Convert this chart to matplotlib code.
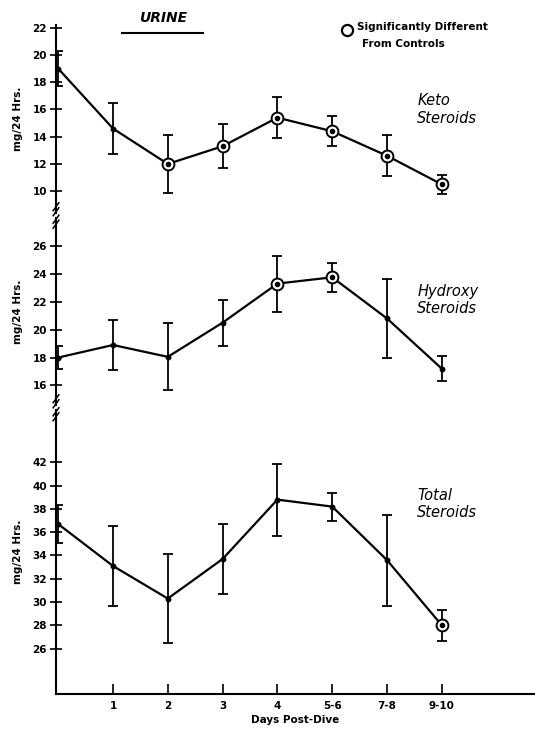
import matplotlib
matplotlib.use("Agg")
import matplotlib.pyplot as plt

# x positions: control, then days post-dive
days = ["Control", "1", "2", "3", "4", "5-6", "7-8", "9-10"]
xpos = list(range(len(days)))

keto_mean = [19.0, 14.6, 12.0, 13.3, 15.4, 14.4, 12.6, 10.5]
keto_err = [1.3, 1.9, 2.1, 1.6, 1.5, 1.1, 1.5, 0.7]
keto_sig = [False, False, True, True, True, True, True, True]

hydroxy_mean = [18.0, 18.9, 18.05, 20.5, 23.3, 23.75, 20.8, 17.2]
hydroxy_err = [0.85, 1.8, 2.4, 1.65, 2.0, 1.05, 2.85, 0.9]
hydroxy_sig = [False, False, False, False, True, True, False, False]

total_mean = [36.7, 33.1, 30.3, 33.7, 38.8, 38.2, 33.6, 28.0]
total_err = [1.6, 3.4, 3.8, 3.0, 3.1, 1.2, 3.9, 1.35]
total_sig = [False, False, False, False, False, False, False, True]

W, H = 535, 731
fig = plt.figure(figsize=(W / 100, H / 100), dpi=100)


def box(top, bottom, left=56, right=535):
    return [left / W, 1 - bottom / H, (right - left) / W, (bottom - top) / H]


panels = [
    (box(25, 213), keto_mean, keto_err, keto_sig, (8.4, 22.2), range(10, 23, 2), "Keto\nSteroids", 17.2),
    (box(218, 405), hydroxy_mean, hydroxy_err, hydroxy_sig, (14.6, 28.0), range(16, 27, 2), "Hydroxy\nSteroids", 23.3),
    (box(410, 694), total_mean, total_err, total_sig, (22.1, 46.5), range(26, 43, 2), "Total\nSteroids", 39.8),
]

tfont = dict(fontsize=7.5, fontweight="bold")
axes = []
for i, (rect, mean, err, sig, ylim, yt, name, ylab) in enumerate(panels):
    ax = fig.add_axes(rect)
    axes.append(ax)
    ax.errorbar(xpos, mean, yerr=err, color="black", lw=1.6, capsize=3.8,
                elinewidth=1.3, capthick=1.3, marker="o", ms=3.2, zorder=3)
    sx = [x for x, s in zip(xpos, sig) if s]
    sy = [m for m, s in zip(mean, sig) if s]
    ax.plot(sx, sy, "o", ms=8.5, mfc="white", mec="black", mew=1.4, zorder=4)
    ax.plot(sx, sy, "o", ms=3, color="black", zorder=5)
    ax.set_xlim(-0.04, 8.7)
    ax.set_ylim(*ylim)
    ax.set_yticks(list(yt))
    ax.set_yticklabels([str(v) for v in yt], **tfont)
    ax.tick_params(axis="y", direction="inout", length=9, width=1.2, pad=2)
    for s in ["top", "right"]:
        ax.spines[s].set_visible(False)
    ax.spines["left"].set_linewidth(1.5)
    ax.set_ylabel("mg/24 Hrs.", fontsize=7.5, fontweight="bold")
    ax.text(6.55, ylab, name, fontsize=10.5, style="italic", va="top", ha="left")
    if i < 2:
        ax.spines["bottom"].set_visible(False)
        ax.set_xticks([])
    else:
        ax.spines["bottom"].set_linewidth(1.5)
        ax.set_xticks(xpos[1:])
        ax.set_xticklabels(days[1:], **tfont)
        ax.tick_params(axis="x", direction="in", length=7, width=1.2, pad=5)
        ax.set_xlabel("Days Post-Dive", fontsize=7.5, fontweight="bold", labelpad=3)
    ax.yaxis.set_label_coords(-0.068, 0.5)

# axis break marks "//"
for ax, yb in [(axes[0], 0.02), (axes[1], 0.98), (axes[1], 0.02), (axes[2], 0.985)]:
    hgt = ax.get_position().height * H
    d = 4.0 / hgt
    for off in (-2.5 / hgt, 2.5 / hgt):
        ax.plot([-0.006, 0.006], [yb + off - d, yb + off + d],
                transform=ax.transAxes, color="black", lw=1.1, clip_on=False)

# title
fig.text(163 / W, 1 - 18 / H, "URINE", fontsize=10, style="italic",
         fontweight="bold", ha="center", va="center")
fig.add_artist(plt.Line2D([122 / W, 203 / W], [1 - 33 / H, 1 - 33 / H],
                          color="black", lw=1.5))

# legend
fig.add_artist(plt.Line2D([347 / W], [1 - 30 / H], marker="o", ms=8,
                          mfc="white", mec="black", mew=1.6))
fig.text(357 / W, 1 - 27 / H, "Significantly Different", fontsize=7.5,
         fontweight="bold", va="center")
fig.text(362 / W, 1 - 44 / H, "From Controls", fontsize=7.5,
         fontweight="bold", va="center")

plt.savefig("out.png", dpi=100)
